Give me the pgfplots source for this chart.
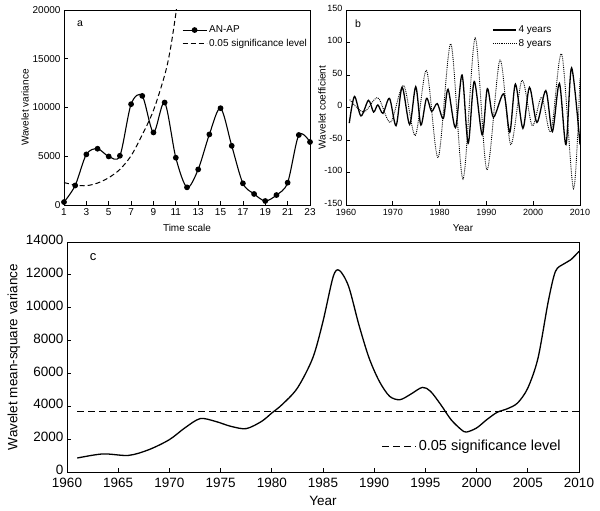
\documentclass[border=0pt]{standalone}
\usepackage{fontspec}
\setmainfont{Liberation Sans}
\usepackage{pgfplots}
\pgfplotsset{compat=1.18}
\begin{document}
\begin{tikzpicture}
\useasboundingbox (0pt,0pt) rectangle (600pt,511pt);
\pgfplotsset{
 every axis/.append style={scale only axis, axis line style={line width=0.9pt},
  tick style={black, line width=0.8pt}, tick align=inside, xtick pos=bottom, ytick pos=left,
  major tick length=4pt, /pgf/number format/assume math mode=true,
  /pgf/number format/1000 sep={}, scaled ticks=false,
  legend cell align=left},
}
% ---------------- panel a
\begin{axis}[at={(64pt,306pt)}, anchor=south west, width=246pt, height=195pt,
  xmin=1, xmax=23, ymin=0, ymax=20000,
  xtick={1,3,...,23}, ytick={0,5000,...,20000},
  tick label style={font=\fontsize{10}{11}\selectfont},
  xlabel={Time scale}, ylabel={Wavelet variance},
  label style={font=\fontsize{10}{11}\selectfont},
  xlabel style={at={(axis description cs:0.5,0)}, anchor=center, yshift=-23pt},
  ylabel style={at={(axis description cs:0,0.5)}, anchor=center, yshift=39pt},
  legend style={draw=none, fill=none, at={(0.475,0.935)}, anchor=north west,
    font=\fontsize{10}{12.5}\selectfont, row sep=1pt, inner sep=1pt},
  legend image code/.code={\draw[#1] (0pt,0pt) -- (24pt,0pt); \path[#1] plot coordinates {(12pt,0pt)};},
]
\addplot[black, line width=1.1pt, smooth, mark=*, mark size=2.3pt, mark options={solid}] coordinates {
(1,300)(2,2000)(3,5190)(4,5770)(5,4980)(6,5050)(7,10340)(8,11190)(9,7440)(10,10510)
(11,4850)(12,1810)(13,3650)(14,7240)(15,9930)(16,6070)(17,2220)(18,1130)(19,410)
(20,1020)(21,2290)(22,7180)(23,6460)};
\addlegendentry{AN-AP}
\addplot[black, line width=1pt, smooth, dash pattern=on 5pt off 3pt] coordinates {
(1,2300)(2,2050)(3,1980)(4,2250)(5,2800)(6,3650)(7,5050)(8,7200)(9,9700)(10,13300)(10.5,15900)(11,19600)(11.4,23000)};
\addlegendentry{0.05 significance level}
\node[font=\fontsize{10.5}{12}\selectfont] at (axis description cs:0.065,0.928) {a};
\end{axis}
% ---------------- panel b
\begin{axis}[at={(346pt,306pt)}, anchor=south west, width=234pt, height=195pt,
  xmin=1960, xmax=2010, ymin=-150, ymax=150,
  xtick={1960,1970,...,2010}, ytick={-150,-100,...,150},
  tick label style={font=\fontsize{9}{10}\selectfont},
  yticklabel style={yshift=2pt},
  xticklabel style={yshift=-1pt},
  xlabel={Year}, ylabel={Wavelet coefficient},
  label style={font=\fontsize{10}{11}\selectfont},
  xlabel style={at={(axis description cs:0.5,0)}, anchor=center, yshift=-23pt},
  ylabel style={at={(axis description cs:0,0.5)}, anchor=center, yshift=24pt},
  legend style={draw=none, fill=none, at={(0.62,0.935)}, anchor=north west,
    font=\fontsize{10}{12.5}\selectfont, row sep=1pt, inner sep=1pt},
  legend image code/.code={\draw[#1] (0pt,0pt) -- (23pt,0pt);},
]
\addplot[black, line width=1.3pt, smooth] coordinates {
(1960.7,-24)(1961.8,17)(1963.2,-13)(1964.8,11)(1965.9,-7)(1966.8,4)(1967.9,-9)(1969.3,14)
(1970.7,-28)(1972.0,31)(1973.6,-26)(1974.9,32)(1976.0,-27)(1977.2,14)(1978.3,-6)(1979.5,6)
(1980.8,-17)(1981.8,28)(1983.4,-31)(1984.8,50)(1986.1,-55)(1987.4,40)(1989.1,-42)(1990.2,29)
(1991.5,-15)(1993.7,21)(1995.0,-38)(1996.2,36)(1997.8,-32)(1999.2,31)(2000.8,-23)(2002.7,26)
(2004.1,-37)(2005.6,37)(2007.0,-57)(2008.2,61)(2010.0,-57)};
\addlegendentry{4 years}
\addplot[black, line width=0.9pt, smooth, densely dotted] coordinates {
(1960.8,12)(1963.8,-7)(1966.8,15)(1969.5,-23)(1972.3,34)(1974.8,-43)(1977.2,57)(1979.7,-77)
(1982.4,98)(1985.0,-110)(1987.6,107)(1990.1,-96)(1992.9,73)(1995.2,-57)(1997.6,42)(1999.8,-28)
(2001.8,16)(2003.8,-37)(2006.1,82)(2008.6,-125)(2010,45)};
\addlegendentry{8 years}
\node[font=\fontsize{10.5}{12}\selectfont] at (axis description cs:0.051,0.928) {b};
\end{axis}
% ---------------- panel c
\begin{axis}[at={(67pt,39pt)}, anchor=south west, width=512pt, height=230pt,
  xmin=1960, xmax=2010, ymin=0, ymax=14000,
  xtick={1960,1965,...,2010}, ytick={0,2000,...,14000},
  tick label style={font=\fontsize{13.5}{15}\selectfont},
  xticklabel style={yshift=-3pt},
  yticklabel style={yshift=2pt},
  xlabel={Year}, ylabel={Wavelet mean-square variance},
  label style={font=\fontsize{13.5}{15}\selectfont},
  xlabel style={at={(axis description cs:0.5,0)}, anchor=center, yshift=-29pt},
  ylabel style={at={(axis description cs:0,0.5)}, anchor=center, yshift=53pt},
  legend style={draw=none, fill=none, at={(0.612,0.112)}, anchor=west,
    font=\fontsize{14.5}{16}\selectfont, inner sep=1pt},
  legend image code/.code={\draw[#1] (0pt,0pt) -- (34pt,0pt);},
]
\addplot[black, line width=1.3pt, smooth, forget plot] coordinates {
(1961,850)(1963.5,1100)(1966,1010)(1968,1360)(1970,1970)(1971.5,2680)(1973,3250)(1974.5,3080)
(1976,2780)(1977.5,2640)(1979,3080)(1980,3590)(1981,4100)(1982.5,5110)(1984,6940)(1985,9170)
(1986,11900)(1986.6,12270)(1987.5,11300)(1988.5,8970)(1989.5,6940)(1990.5,5520)(1991.5,4610)
(1992.5,4400)(1993.5,4710)(1994.7,5150)(1995.5,4910)(1996.5,4100)(1997.5,3190)(1998.5,2580)
(1999,2430)(2000,2680)(2001,3190)(2002,3630)(2003,3850)(2004,4200)(2005,5110)(2006,6940)
(2007,10390)(2007.7,12210)(2008.5,12660)(2009.2,12920)(2010,13430)};
\addplot[black, line width=1.3pt, dash pattern=on 7pt off 4pt] coordinates {(1961,3700)(2010,3700)};
\addlegendentry{0.05 significance level}
\node[font=\fontsize{13}{15}\selectfont] at (axis description cs:0.051,0.935) {c};
\end{axis}
\end{tikzpicture}
\end{document}
